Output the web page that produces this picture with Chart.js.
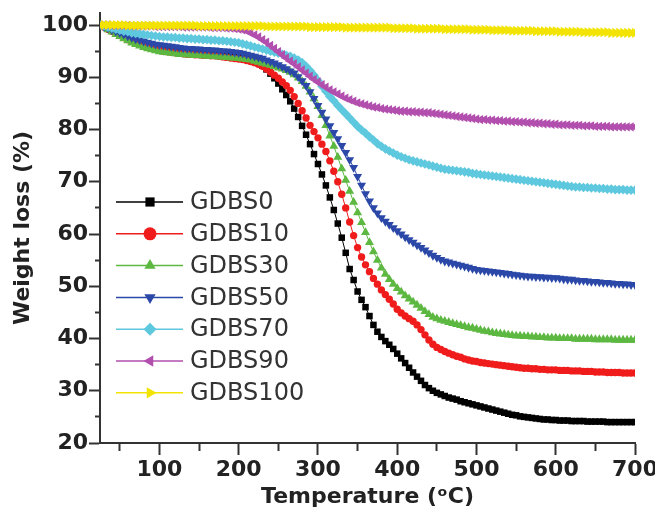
<!DOCTYPE html>
<html>
<head>
<meta charset="UTF-8">
<title>TGA</title>
<script src="https://cdn.jsdelivr.net/npm/chart.js"></script>
<style>
  body { margin: 0; background: #fff; }
  #wrap { width: 655px; height: 521px; }
</style>
</head>
<body>
<div id="wrap"><canvas id="tga"></canvas></div>
<script>
// temperature (°C), one reading every 5 degrees
const temps = [
  25, 30, 35, 40, 45, 50, 55, 60, 65, 70,
  75, 80, 85, 90, 95, 100, 105, 110, 115, 120,
  125, 130, 135, 140, 145, 150, 155, 160, 165, 170,
  175, 180, 185, 190, 195, 200, 205, 210, 215, 220,
  225, 230, 235, 240, 245, 250, 255, 260, 265, 270,
  275, 280, 285, 290, 295, 300, 305, 310, 315, 320,
  325, 330, 335, 340, 345, 350, 355, 360, 365, 370,
  375, 380, 385, 390, 395, 400, 405, 410, 415, 420,
  425, 430, 435, 440, 445, 450, 455, 460, 465, 470,
  475, 480, 485, 490, 495, 500, 505, 510, 515, 520,
  525, 530, 535, 540, 545, 550, 555, 560, 565, 570,
  575, 580, 585, 590, 595, 600, 605, 610, 615, 620,
  625, 630, 635, 640, 645, 650, 655, 660, 665, 670,
  675, 680, 685, 690, 695, 700
];

const gdbs0 = [
  100.0, 99.7, 99.4, 99.1, 98.8, 98.5, 98.1, 97.7, 97.4, 97.1,
  96.8, 96.5, 96.2, 95.9, 95.7, 95.5, 95.4, 95.3, 95.2, 95.2,
  95.1, 95.1, 95.0, 95.0, 94.9, 94.9, 94.8, 94.8, 94.7, 94.7,
  94.6, 94.5, 94.4, 94.3, 94.1, 94.0, 93.8, 93.6, 93.4, 93.1,
  92.7, 92.2, 91.5, 90.7, 89.8, 88.8, 87.7, 86.6, 85.4, 84.0,
  82.4, 80.7, 79.0, 77.2, 75.3, 73.4, 71.4, 69.3, 67.0, 64.6,
  62.0, 59.3, 56.4, 53.3, 51.2, 49.0, 47.4, 46.0, 44.3, 42.6,
  41.3, 40.3, 39.5, 38.8, 38.0, 37.1, 36.2, 35.3, 34.4, 33.5,
  32.7, 31.9, 31.1, 30.5, 30.0, 29.6, 29.3, 29.0, 28.7, 28.5,
  28.3, 28.0, 27.8, 27.6, 27.4, 27.2, 27.0, 26.8, 26.6, 26.4,
  26.2, 26.0, 25.8, 25.6, 25.4, 25.3, 25.1, 25.0, 24.9, 24.8,
  24.7, 24.6, 24.5, 24.5, 24.4, 24.4, 24.3, 24.3, 24.3, 24.2,
  24.2, 24.2, 24.2, 24.1, 24.1, 24.1, 24.1, 24.1, 24.0, 24.0,
  24.0, 24.0, 24.0, 24.0, 24.0, 24.0
];

const gdbs10 = [
  100.0, 99.6, 99.2, 98.8, 98.4, 98.0, 97.6, 97.2, 96.9, 96.6,
  96.3, 96.0, 95.8, 95.6, 95.4, 95.2, 95.0, 94.9, 94.8, 94.7,
  94.6, 94.5, 94.4, 94.4, 94.3, 94.3, 94.2, 94.2, 94.1, 94.1,
  94.0, 93.9, 93.8, 93.7, 93.6, 93.5, 93.4, 93.2, 93.0, 92.8,
  92.5, 92.1, 91.6, 91.0, 90.4, 89.8, 89.1, 88.4, 87.5, 86.3,
  85.0, 83.6, 82.2, 80.8, 79.6, 78.4, 77.2, 75.8, 74.0, 72.0,
  70.0, 67.6, 65.0, 62.3, 59.7, 57.4, 55.6, 54.1, 52.8, 51.5,
  50.4, 49.3, 48.4, 47.5, 46.6, 45.6, 44.9, 44.3, 43.8, 43.3,
  42.6, 41.7, 40.7, 39.7, 38.9, 38.3, 37.9, 37.5, 37.2, 36.9,
  36.6, 36.4, 36.1, 35.9, 35.7, 35.6, 35.4, 35.3, 35.2, 35.1,
  35.0, 34.9, 34.8, 34.7, 34.6, 34.5, 34.4, 34.3, 34.3, 34.2,
  34.2, 34.1, 34.1, 34.0, 34.0, 34.0, 33.9, 33.9, 33.9, 33.8,
  33.8, 33.8, 33.7, 33.7, 33.7, 33.6, 33.6, 33.6, 33.5, 33.5,
  33.5, 33.5, 33.4, 33.4, 33.4, 33.4
];

const gdbs30 = [
  100.0, 99.6, 99.1, 98.7, 98.2, 97.8, 97.4, 97.0, 96.6, 96.3,
  96.0, 95.7, 95.5, 95.3, 95.1, 94.9, 94.8, 94.7, 94.6, 94.5,
  94.4, 94.4, 94.3, 94.3, 94.2, 94.2, 94.1, 94.1, 94.0, 94.0,
  93.9, 93.9, 93.8, 93.7, 93.7, 93.6, 93.5, 93.4, 93.3, 93.1,
  92.9, 92.7, 92.5, 92.3, 92.1, 91.8, 91.6, 91.3, 91.0, 90.5,
  89.9, 89.2, 88.3, 87.2, 85.9, 84.4, 82.7, 80.8, 78.8, 76.8,
  74.7, 72.5, 70.3, 68.2, 66.1, 64.1, 62.2, 60.3, 58.4, 56.6,
  55.0, 53.5, 52.3, 51.3, 50.4, 49.6, 48.9, 48.2, 47.6, 47.0,
  46.4, 45.8, 45.2, 44.6, 44.1, 43.8, 43.5, 43.3, 43.1, 42.9,
  42.7, 42.5, 42.3, 42.1, 42.0, 41.8, 41.6, 41.4, 41.3, 41.1,
  41.0, 40.9, 40.8, 40.7, 40.6, 40.5, 40.5, 40.4, 40.4, 40.3,
  40.3, 40.2, 40.2, 40.1, 40.1, 40.1, 40.0, 40.0, 40.0, 40.0,
  39.9, 39.9, 39.9, 39.9, 39.9, 39.8, 39.8, 39.8, 39.8, 39.8,
  39.7, 39.7, 39.7, 39.7, 39.7, 39.7
];

const gdbs50 = [
  100.0, 99.7, 99.4, 99.1, 98.8, 98.5, 98.2, 97.9, 97.6, 97.3,
  97.1, 96.9, 96.7, 96.5, 96.3, 96.2, 96.1, 96.0, 95.9, 95.8,
  95.7, 95.6, 95.5, 95.5, 95.4, 95.4, 95.3, 95.3, 95.2, 95.2,
  95.1, 95.0, 95.0, 94.9, 94.8, 94.7, 94.6, 94.4, 94.2, 94.0,
  93.8, 93.6, 93.3, 93.0, 92.7, 92.4, 92.0, 91.6, 91.2, 90.8,
  90.1, 89.3, 88.4, 87.2, 85.9, 84.6, 83.3, 82.0, 80.7, 79.4,
  78.2, 76.9, 75.6, 74.2, 72.7, 71.0, 69.3, 67.7, 66.3, 65.0,
  64.0, 63.1, 62.4, 61.8, 61.2, 60.6, 60.0, 59.4, 58.9, 58.4,
  57.9, 57.4, 56.9, 56.4, 55.9, 55.5, 55.1, 54.8, 54.6, 54.4,
  54.2, 54.0, 53.8, 53.6, 53.4, 53.2, 53.1, 53.0, 52.9, 52.8,
  52.7, 52.6, 52.5, 52.4, 52.3, 52.2, 52.1, 52.0, 51.9, 51.9,
  51.8, 51.8, 51.7, 51.7, 51.6, 51.6, 51.5, 51.4, 51.3, 51.3,
  51.2, 51.1, 51.1, 51.0, 50.9, 50.9, 50.8, 50.7, 50.7, 50.6,
  50.5, 50.5, 50.4, 50.4, 50.3, 50.3
];

const gdbs70 = [
  100.0, 99.8, 99.6, 99.4, 99.2, 99.0, 98.8, 98.7, 98.5, 98.4,
  98.3, 98.2, 98.1, 98.0, 97.9, 97.8, 97.7, 97.7, 97.6, 97.6,
  97.5, 97.5, 97.4, 97.4, 97.3, 97.3, 97.2, 97.2, 97.1, 97.1,
  97.0, 97.0, 96.9, 96.8, 96.7, 96.6, 96.4, 96.2, 96.0, 95.8,
  95.6, 95.4, 95.2, 95.0, 94.8, 94.6, 94.4, 94.2, 94.0, 93.7,
  93.3, 92.8, 92.1, 91.3, 90.4, 89.4, 88.3, 87.3, 86.3, 85.5,
  84.6, 83.8, 83.0, 82.2, 81.4, 80.6, 79.9, 79.3, 78.6, 78.0,
  77.3, 76.8, 76.3, 75.9, 75.5, 75.1, 74.8, 74.5, 74.2, 74.0,
  73.8, 73.6, 73.4, 73.2, 73.0, 72.8, 72.6, 72.4, 72.3, 72.2,
  72.1, 72.0, 71.9, 71.8, 71.6, 71.5, 71.4, 71.3, 71.2, 71.1,
  71.0, 70.9, 70.8, 70.7, 70.6, 70.5, 70.4, 70.3, 70.2, 70.1,
  70.0, 69.9, 69.8, 69.7, 69.6, 69.5, 69.4, 69.3, 69.2, 69.1,
  69.0, 69.0, 68.9, 68.9, 68.8, 68.8, 68.7, 68.7, 68.6, 68.6,
  68.5, 68.5, 68.5, 68.4, 68.4, 68.4
];

const gdbs90 = [
  100.0, 100.0, 100.0, 99.9, 99.9, 99.9, 99.9, 99.9, 99.8, 99.8,
  99.8, 99.8, 99.8, 99.8, 99.7, 99.7, 99.7, 99.7, 99.7, 99.7,
  99.7, 99.6, 99.6, 99.6, 99.6, 99.6, 99.6, 99.6, 99.5, 99.5,
  99.5, 99.5, 99.4, 99.4, 99.3, 99.2, 99.1, 98.9, 98.5, 98.1,
  97.7, 97.2, 96.7, 96.1, 95.5, 94.9, 94.3, 93.7, 93.1, 92.6,
  92.0, 91.4, 90.8, 90.2, 89.6, 89.1, 88.6, 88.1, 87.6, 87.2,
  86.8, 86.4, 86.0, 85.7, 85.4, 85.1, 84.9, 84.7, 84.5, 84.3,
  84.2, 84.0, 83.9, 83.8, 83.7, 83.6, 83.5, 83.5, 83.4, 83.4,
  83.3, 83.3, 83.2, 83.2, 83.1, 83.0, 82.9, 82.8, 82.7, 82.6,
  82.5, 82.4, 82.3, 82.2, 82.1, 82.0, 81.9, 81.9, 81.8, 81.8,
  81.7, 81.7, 81.6, 81.6, 81.5, 81.5, 81.4, 81.4, 81.3, 81.3,
  81.2, 81.2, 81.1, 81.1, 81.0, 81.0, 80.9, 80.9, 80.9, 80.8,
  80.8, 80.8, 80.7, 80.7, 80.7, 80.6, 80.6, 80.6, 80.6, 80.5,
  80.5, 80.5, 80.5, 80.5, 80.5, 80.5
];

const gdbs100 = [
  100.0, 100.0, 100.0, 100.0, 100.0, 100.0, 100.0, 99.9, 99.9, 99.9,
  99.9, 99.9, 99.9, 99.9, 99.9, 99.9, 99.9, 99.9, 99.9, 99.9,
  99.9, 99.9, 99.9, 99.9, 99.9, 99.8, 99.8, 99.8, 99.8, 99.8,
  99.8, 99.8, 99.8, 99.8, 99.8, 99.8, 99.8, 99.8, 99.8, 99.8,
  99.8, 99.8, 99.7, 99.7, 99.7, 99.7, 99.7, 99.7, 99.7, 99.7,
  99.7, 99.7, 99.7, 99.6, 99.6, 99.6, 99.6, 99.6, 99.6, 99.6,
  99.6, 99.6, 99.5, 99.5, 99.5, 99.5, 99.5, 99.5, 99.5, 99.5,
  99.5, 99.5, 99.5, 99.5, 99.4, 99.4, 99.4, 99.4, 99.4, 99.4,
  99.3, 99.3, 99.3, 99.3, 99.3, 99.3, 99.3, 99.2, 99.2, 99.2,
  99.2, 99.2, 99.2, 99.2, 99.1, 99.1, 99.1, 99.1, 99.1, 99.0,
  99.0, 99.0, 99.0, 99.0, 98.9, 98.9, 98.9, 98.9, 98.9, 98.9,
  98.8, 98.8, 98.8, 98.8, 98.8, 98.8, 98.7, 98.7, 98.7, 98.7,
  98.7, 98.7, 98.6, 98.6, 98.6, 98.6, 98.6, 98.6, 98.6, 98.5,
  98.5, 98.5, 98.5, 98.5, 98.5, 98.5
];

const names = ['GDBS0', 'GDBS10', 'GDBS30', 'GDBS50', 'GDBS70', 'GDBS90', 'GDBS100'];
const series = [gdbs0, gdbs10, gdbs30, gdbs50, gdbs70, gdbs90, gdbs100];
const colors = ['#000000', '#f01c1c', '#5cb840', '#2b48a8', '#5ec8de', '#b24fae', '#f2e400'];
const shapes = ['rect', 'circle', 'triangle', 'triangle', 'rectRot', 'triangle', 'triangle'];
const turns = [0, 0, 0, 180, 0, 270, 90];
const sizes = [4.6, 3.7, 5.2, 5.2, 4.8, 5.4, 5.8];

const datasets = series.map((s, i) => ({
  label: names[i],
  data: s,
  borderColor: colors[i],
  backgroundColor: colors[i],
  borderWidth: 1,
  pointStyle: shapes[i],
  pointRotation: turns[i],
  pointRadius: sizes[i],
  pointBorderWidth: 0,
  order: 6 - i
}));

// legend drawn inside the plot: short line with the marker on it
const boxLegend = {
  id: 'boxLegend',
  afterDatasetsDraw(chart) {
    const {ctx, chartArea} = chart;
    ctx.save();
    chart.data.datasets.forEach((ds, i) => {
      const x = chartArea.left;
      const y = chartArea.top + 189 + i * 31.8;
      ctx.strokeStyle = ds.borderColor;
      ctx.lineWidth = 1.5;
      ctx.beginPath();
      ctx.moveTo(x + 16, y);
      ctx.lineTo(x + 83, y);
      ctx.stroke();
      ctx.fillStyle = ds.borderColor;
      Chart.helpers.drawPoint(ctx, {pointStyle: ds.pointStyle, rotation: ds.pointRotation, radius: 6.5, borderWidth: 0}, x + 50, y);
      ctx.fillStyle = '#333';
      ctx.font = '24px "DejaVu Sans"';
      ctx.textBaseline = 'middle';
      ctx.fillText(ds.label, x + 90, y + 1);
    });
    ctx.restore();
  }
};

const tickFont = {family: '"DejaVu Sans"', size: 22, weight: 'bold'};

new Chart(document.getElementById('tga'), {
  type: 'line',
  data: {labels: temps, datasets: datasets},
  options: {
    responsive: true,
    maintainAspectRatio: false,
    animation: false,
    layout: {padding: {top: 13, right: 20, left: 0, bottom: 0}},
    plugins: {legend: {display: false}, tooltip: {enabled: false}},
    scales: {
      x: {
        type: 'linear',
        min: 25,
        max: 700,
        afterBuildTicks: axis => { axis.ticks = axis.ticks.filter(t => t.value % 50 === 0); },
        afterFit: axis => { axis.height = 78; axis.paddingLeft = 0; axis.paddingRight = 0; },
        border: {color: '#333', width: 2},
        grid: {
          drawOnChartArea: false,
          tickLength: 12,
          tickColor: '#333',
          tickWidth: 2,
          tickBorderDash: c => c.tick && c.tick.value % 100 !== 0 ? [7, 20] : []
        },
        ticks: {
          stepSize: 50,
          includeBounds: false,
          autoSkip: false,
          maxRotation: 0,
          padding: 2,
          color: '#222',
          font: tickFont,
          callback: v => v % 100 === 0 ? v : ''
        },
        title: {
          display: true,
          text: 'Temperature (ᵒC)',
          color: '#222',
          font: tickFont,
          padding: {top: 0, bottom: 11}
        }
      },
      y: {
        min: 20,
        max: 102.3,
        afterBuildTicks: axis => { axis.ticks = axis.ticks.filter(t => t.value % 5 === 0); },
        afterFit: axis => { axis.width = 100; axis.paddingTop = 0; axis.paddingBottom = 0; },
        border: {color: '#333', width: 2},
        grid: {
          drawOnChartArea: false,
          tickLength: 11,
          tickColor: '#333',
          tickWidth: 2,
          tickBorderDash: c => c.tick && c.tick.value % 10 !== 0 ? [5, 6] : [],
          tickBorderDashOffset: c => c.tick && c.tick.value % 10 !== 0 ? 5 : 0
        },
        ticks: {
          stepSize: 5,
          includeBounds: false,
          autoSkip: false,
          padding: 1,
          color: '#222',
          font: tickFont,
          callback: v => v % 10 === 0 ? v : ''
        },
        title: {
          display: true,
          text: 'Weight loss (%)',
          color: '#222',
          font: tickFont,
          padding: {top: 10, bottom: 0}
        }
      }
    }
  },
  plugins: [boxLegend]
});
</script>
</body>
</html>
